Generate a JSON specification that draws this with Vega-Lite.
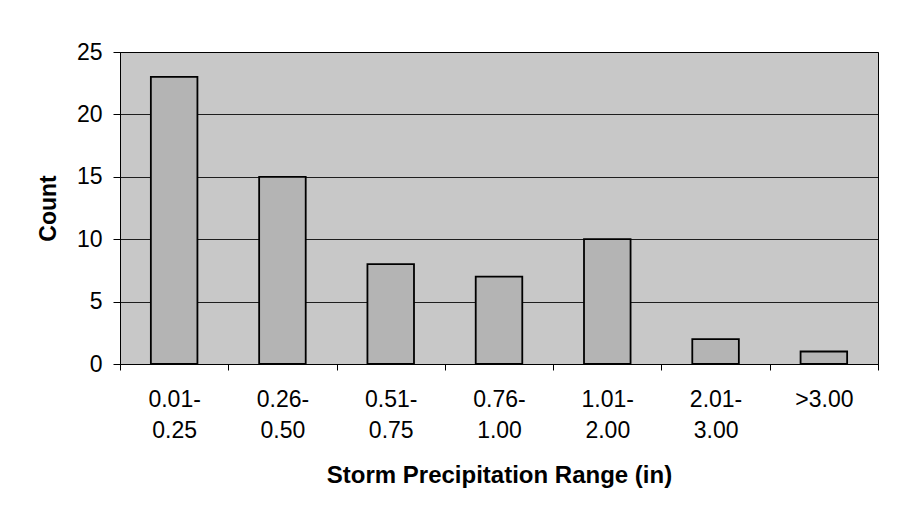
{
  "$schema": "https://vega.github.io/schema/vega-lite/v6.json",
  "autosize": "none",
  "width": 758,
  "height": 312,
  "padding": {"left": 120, "top": 52, "right": 30, "bottom": 153},
  "background": "#ffffff",
  "data": {
    "values": [
      {"range": "0.01-0.25", "count": 23},
      {"range": "0.26-0.50", "count": 15},
      {"range": "0.51-0.75", "count": 8},
      {"range": "0.76-1.00", "count": 7},
      {"range": "1.01-2.00", "count": 10},
      {"range": "2.01-3.00", "count": 2},
      {"range": ">3.00", "count": 1}
    ]
  },
  "mark": {"type": "bar", "width": {"band": 0.43}, "fill": "#b4b4b4", "stroke": "#000000", "strokeWidth": 1.8},
  "encoding": {
    "x": {
      "field": "range",
      "type": "nominal",
      "sort": null,
      "scale": {"paddingInner": 0, "paddingOuter": 0},
      "axis": {
        "title": "Storm Precipitation Range (in)",
        "titleFont": "Liberation Sans",
        "titleFontSize": 24,
        "titleFontWeight": "bold",
        "titleColor": "#000000",
        "titlePadding": 21,
        "labelFont": "Liberation Sans",
        "labelFontSize": 23,
        "labelColor": "#000000",
        "labelAngle": 0,
        "labelPadding": 18,
        "labelLineHeight": 31,
        "labelExpr": "indexof(datum.label,'-') > 0 ? [substring(datum.label, 0, indexof(datum.label,'-')+1), substring(datum.label, indexof(datum.label,'-')+1)] : datum.label",
        "tickBand": "extent",
        "tickSize": 6,
        "tickColor": "#000000",
        "domainColor": "#000000",
        "grid": false
      }
    },
    "y": {
      "field": "count",
      "type": "quantitative",
      "scale": {"domain": [0, 25], "nice": false},
      "axis": {
        "title": "Count",
        "titleFont": "Liberation Sans",
        "titleFontSize": 23,
        "titleFontWeight": "bold",
        "titleColor": "#000000",
        "titlePadding": 16,
        "labelFont": "Liberation Sans",
        "labelFontSize": 23,
        "labelColor": "#000000",
        "labelPadding": 11,
        "values": [0, 5, 10, 15, 20, 25],
        "tickSize": 7,
        "tickColor": "#000000",
        "domainColor": "#000000",
        "grid": true,
        "gridColor": "#000000",
        "gridOpacity": 0.85
      }
    }
  },
  "config": {
    "view": {"fill": "#c8c8c8", "stroke": "#000000", "strokeWidth": 1}
  }
}
